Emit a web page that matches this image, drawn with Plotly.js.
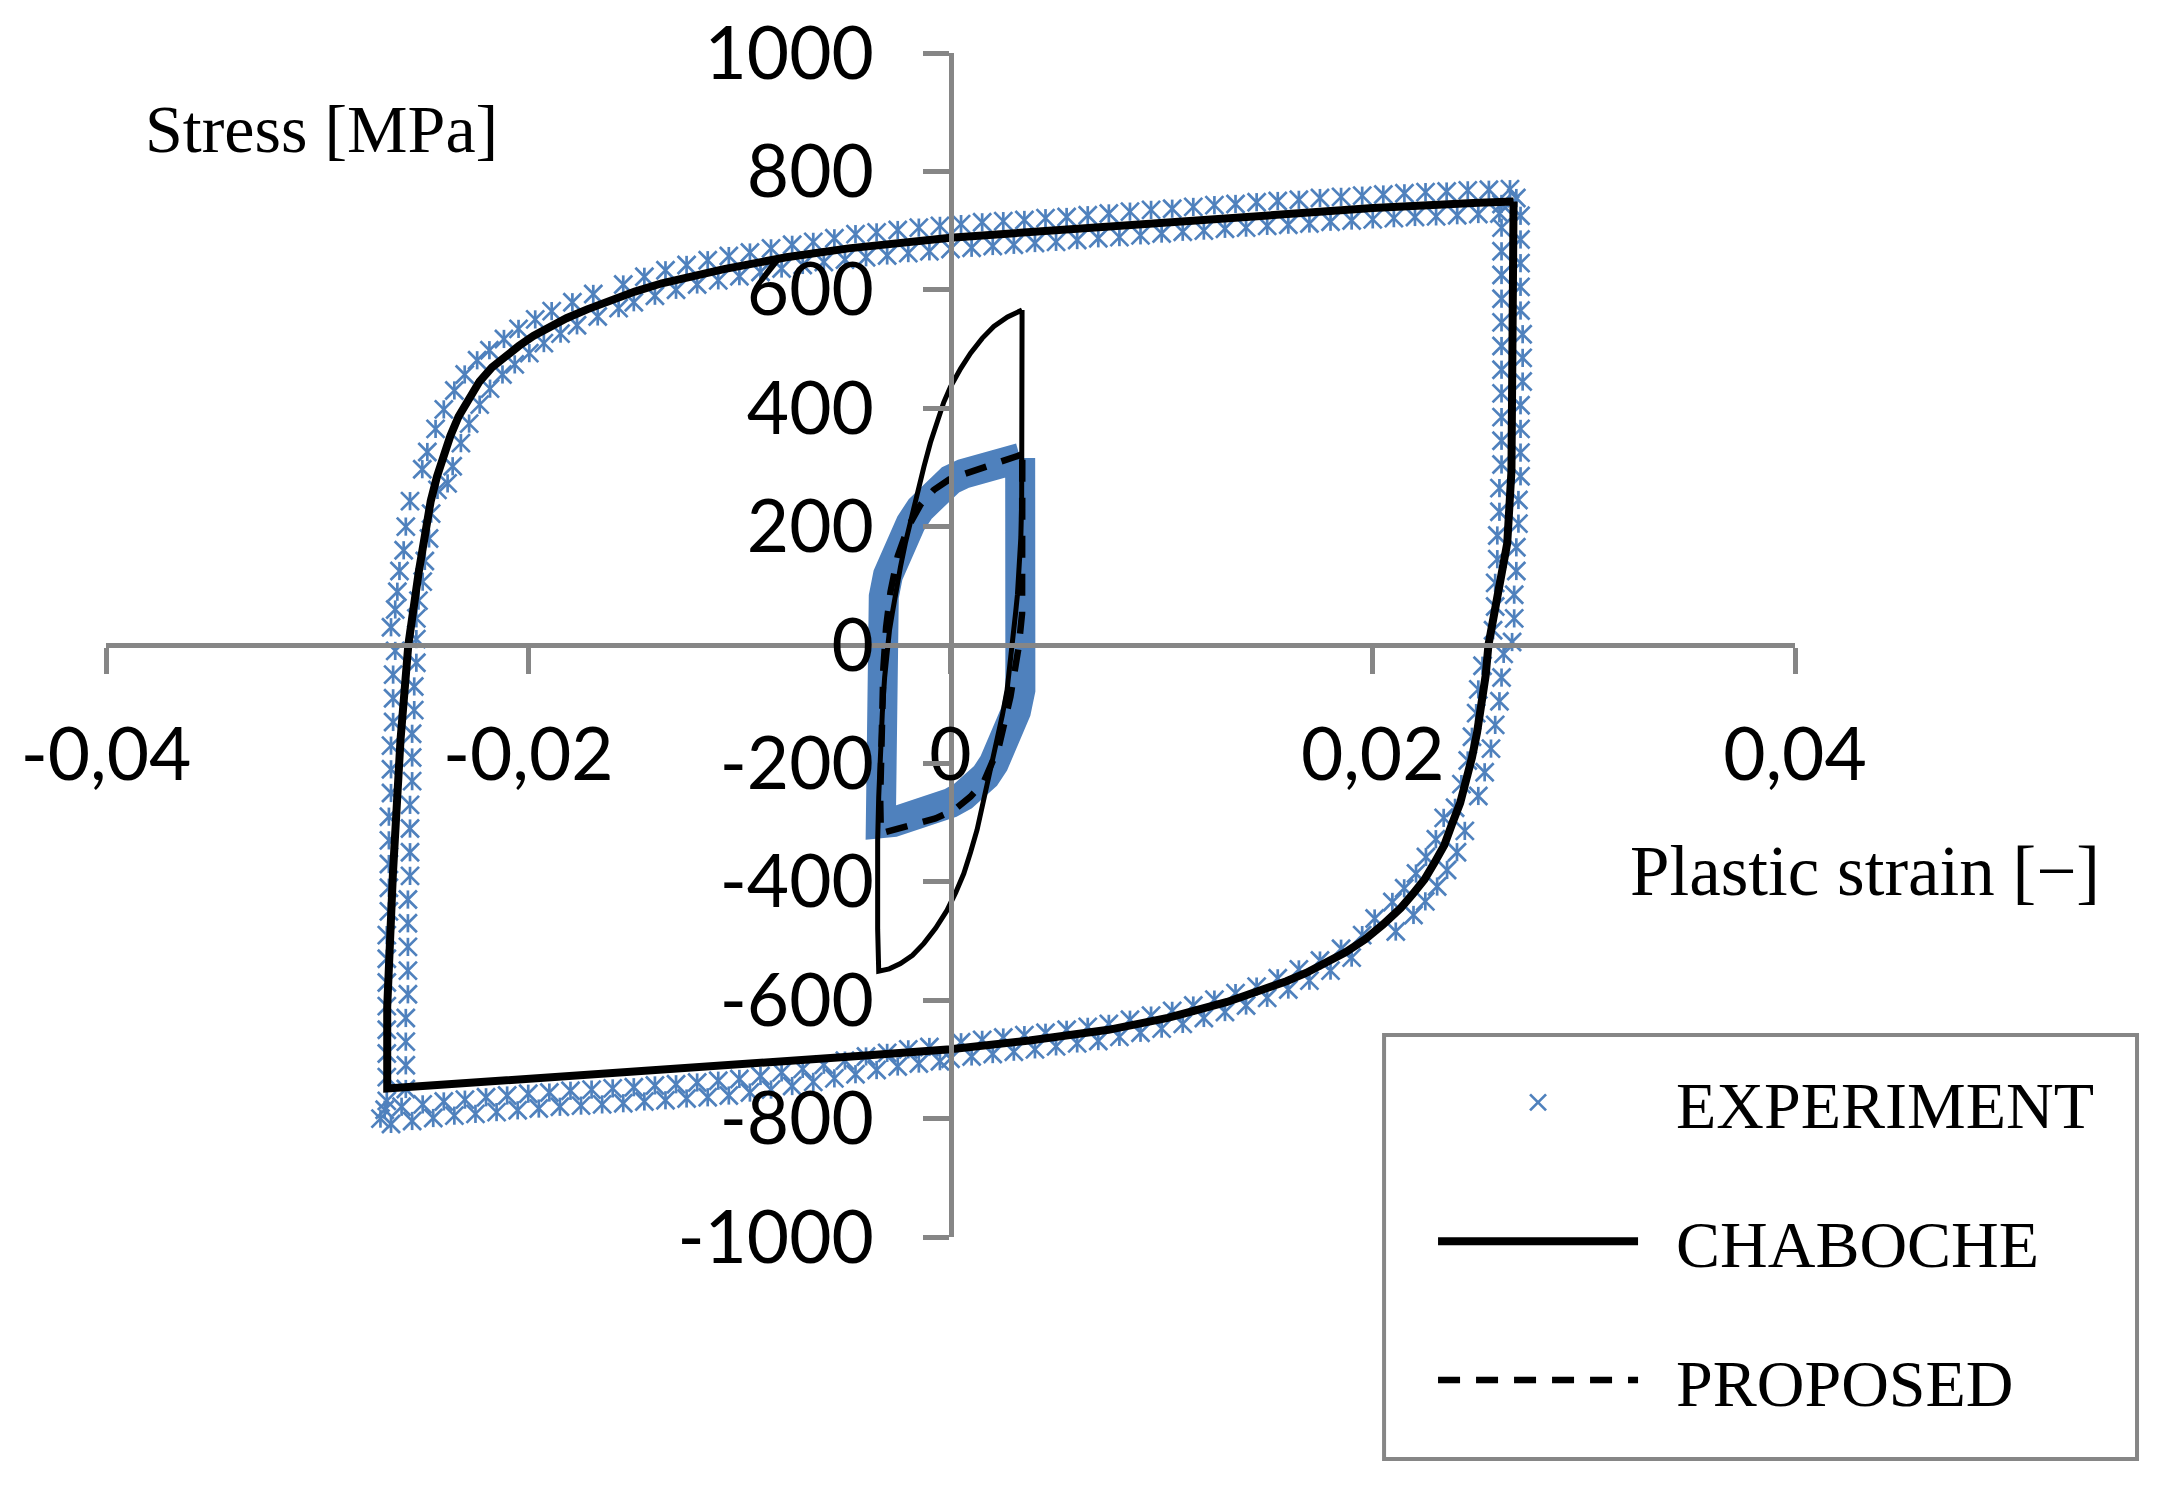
<!DOCTYPE html>
<html>
<head>
<meta charset="utf-8">
<script src="https://cdn.plot.ly/plotly-3.0.1.min.js"></script>
<style>html,body{margin:0;padding:0;background:#fff;}#chart{width:2179px;height:1498px;}</style>
</head>
<body>
<div id="chart"></div>
<script>
// ---- tick labels ----
const xTickVals = [-0.04, -0.02, 0, 0.02, 0.04];
const xTickText = ["-0,04", "-0,02", "0", "0,02", "0,04"];
const yTickVals = [-1000, -800, -600, -400, -200, 0, 200, 400, 600, 800, 1000];
const yTickText = ["-1000", "-800", "-600", "-400", "-200", "0", "200", "400", "600", "800", "1000"];

// ---- series names ----
const nameExp = 'EXPERIMENT';
const nameCha = 'CHABOCHE';
const namePro = 'PROPOSED';

// ---- EXPERIMENT, large loop (markers, read along the loop) ----
const expOuterX = [
 // right side, going down
 0.0268,0.0261,0.0270,0.0261,0.0270,0.0261,0.0270,0.0261,0.0270,0.0261,0.0270,0.0261,0.0271,0.0261,0.0271,0.0261,0.0271,0.0261,0.0270,0.0261,
 0.0270,0.0261,0.0270,0.0261,0.0270,0.0260,0.0269,0.0260,0.0269,0.0259,0.0268,0.0259,0.0268,0.0258,0.0267,0.0258,0.0267,0.0257,0.0266,
 0.0262,0.0252,0.0261,0.0250,0.0260,0.0249,0.0258,0.0247,0.0256,0.0245,0.0253,0.0242,0.0250,0.0239,
 // lower right bend
 0.02436,0.02336,0.02399,0.02299,0.02352,0.02252,0.02305,0.02205,0.02249,0.02149,0.02193,0.02093,0.02109,0.02009,
 // lower branch
 0.0195,0.0190,0.0185,0.0180,0.0175,0.0170,0.0165,0.0160,0.0155,0.0150,0.0145,0.0140,0.0135,0.0130,0.0125,0.0120,0.0115,0.0110,0.0105,0.0100,
 0.0095,0.0090,0.0085,0.0080,0.0075,0.0070,0.0065,0.0060,0.0055,0.0050,0.0045,0.0040,0.0035,0.0030,0.0025,0.0020,0.0015,0.0010,0.0005,0.0000,
 -0.0005,-0.0010,-0.0015,-0.0020,-0.0025,-0.0030,-0.0035,-0.0040,-0.0045,-0.0050,-0.0055,-0.0060,-0.0065,-0.0070,-0.0075,-0.0080,-0.0085,-0.0090,-0.0095,-0.0100,
 -0.0105,-0.0110,-0.0115,-0.0120,-0.0125,-0.0130,-0.0135,-0.0140,-0.0145,-0.0150,-0.0155,-0.0160,-0.0165,-0.0170,-0.0175,-0.0180,-0.0185,-0.0190,-0.0195,-0.0200,
 -0.0205,-0.0210,-0.0215,-0.0220,-0.0225,-0.0230,-0.0235,-0.0240,-0.0245,-0.0250,-0.0255,-0.0260,-0.0265,-0.0270,-0.0268,
 // left side, going up
 -0.0267,-0.0258,-0.0267,-0.0258,-0.0267,-0.0258,-0.0267,-0.0258,-0.0267,-0.0257,-0.0267,-0.0257,-0.0267,-0.0257,-0.0267,-0.0257,-0.0266,-0.0257,-0.0266,-0.0256,
 -0.0266,-0.0256,-0.0266,-0.0256,-0.0266,-0.0256,-0.0265,-0.0255,-0.0265,-0.0255,-0.0265,-0.0255,-0.0264,-0.0254,-0.0264,-0.0254,-0.0264,-0.0253,-0.0263,-0.0253,
 -0.0265,-0.0253,-0.0263,-0.0252,-0.0262,-0.0250,-0.0261,-0.0249,-0.0259,-0.0247,-0.0258,-0.0246,-0.0256,-0.0243,
 // upper left bend
 -0.02502,-0.02382,-0.02478,-0.02358,-0.02439,-0.02319,-0.02400,-0.02280,-0.02350,-0.02230,-0.02301,-0.02181,-0.02242,-0.02122,
 -0.02184,-0.02064,-0.02115,-0.01995,-0.02046,-0.01926,-0.01967,-0.01847,-0.01889,-0.01769,-0.01791,-0.01671,-0.01692,-0.01572,
 // upper branch
 -0.0155,-0.0150,-0.0145,-0.0140,-0.0135,-0.0130,-0.0125,-0.0120,-0.0115,-0.0110,-0.0105,-0.0100,-0.0095,-0.0090,-0.0085,-0.0080,-0.0075,-0.0070,-0.0065,-0.0060,-0.0055,
 -0.0050,-0.0045,-0.0040,-0.0035,-0.0030,-0.0025,-0.0020,-0.0015,-0.0010,-0.0005,0.0000,0.0005,0.0010,0.0015,0.0020,0.0025,0.0030,0.0035,0.0040,0.0045,
 0.0050,0.0055,0.0060,0.0065,0.0070,0.0075,0.0080,0.0085,0.0090,0.0095,0.0100,0.0105,0.0110,0.0115,0.0120,0.0125,0.0130,0.0135,0.0140,0.0145,
 0.0150,0.0155,0.0160,0.0165,0.0170,0.0175,0.0180,0.0185,0.0190,0.0195,0.0200,0.0205,0.0210,0.0215,0.0220,0.0225,0.0230,0.0235,0.0240,0.0245,
 0.0250,0.0255,0.0260,0.0265
];
const expOuterY = [
 755,745,725,705,685,665,645,625,605,585,565,545,525,505,485,465,445,425,405,385,
 365,345,325,305,285,265,245,225,205,185,165,145,125,105,85,65,45,25,5,
 -15,-35,-55,-75,-95,-115,-135,-155,-175,-195,-215,-235,-255,-275,
 -314,-292,-350,-328,-380,-358,-408,-386,-433,-411,-456,-434,-484,-462,
 -490,-528,-513,-550,-533,-567,-548,-582,-563,-596,-577,-609,-588,-620,-599,-630,-609,-640,-618,-648,
 -626,-655,-633,-662,-640,-669,-645,-673,-650,-678,-655,-683,-659,-687,-663,-691,-667,-695,-671,-699,
 -703,-679,-707,-683,-712,-689,-718,-695,-725,-702,-732,-709,-738,-716,-745,-722,-751,-728,-756,-733,
 -761,-736,-764,-739,-766,-742,-769,-744,-771,-747,-774,-749,-776,-751,-778,-753,-780,-756,-783,-758,
 -786,-761,-789,-764,-792,-768,-795,-771,-799,-776,-804,-780,-809,-800,-785,
 -770,-750,-730,-710,-690,-670,-650,-630,-610,-590,-570,-550,-530,-510,-490,-470,-450,-430,-410,-390,
 -370,-350,-330,-310,-290,-270,-250,-230,-210,-190,-170,-150,-130,-110,-90,-70,-50,-30,-10,10,
 30,45,60,75,90,107,125,142,160,180,200,222,243,262,
 297,273,326,302,365,341,398,374,430,406,457,433,481,457,
 498,474,517,493,534,510,550,526,564,540,579,555,593,569,
 609,579,622,590,633,600,642,609,650,616,657,623,663,630,670,636,676,642,681,647,687,
 651,694,655,697,658,701,662,705,665,708,669,711,671,714,674,716,676,718,679,721,
 681,723,684,726,687,729,689,732,692,735,695,737,698,740,700,743,703,745,705,748,
 708,750,710,752,712,755,715,757,717,759,719,761,721,763,723,765,724,766,726,768,
 728,769,729,770
];

// ---- EXPERIMENT, small loop (very dense points, drawn as a band) ----
const expInnerX = [0.0033,0.00336,0.00338,0.0034,0.00344,0.00345,0.0034,0.00331,0.0031,0.00284,0.00247,0.00205,0.00166,0.00126,0.0006,0,-0.001,-0.00189,-0.0027,-0.0033,
 -0.00331,-0.00331,-0.00331,-0.00326,-0.00316,-0.00296,-0.00268,-0.00232,-0.00189,-0.00143,-0.00095,-0.0005,0,0.0006,0.00126,0.0025,0.0033];
const expInnerY = [316,250,180,110,50,0,-40,-76,-112,-144,-174,-200,-221,-239,-255,-267,-284,-294,-299,-301,
 -200,-100,-3,42,82,118,149,178,205,230,250,265,279,289,298,310,316];

// ---- CHABOCHE ----
const chabOuterX = [0.02667,0.02662,0.02659,0.02657,0.02637,0.02548,0.02535,0.02516,0.02494,0.0247,0.02442,0.02414,0.02376,0.02339,0.02292,0.02245,
 0.02189,0.02133,0.02049,0.01964,0.01871,0.01778,0.01684,0.01591,0.0145,0.0131,0.01029,0.00748,0.00374,0,
 -0.005,-0.01,-0.015,-0.02,-0.025,-0.02668,-0.02668,-0.02641,-0.02605,-0.02568,-0.02546,-0.02518,-0.0249,-0.02462,-0.02432,-0.02408,
 -0.02369,-0.0233,-0.0228,-0.02231,-0.02172,-0.02114,-0.02045,-0.01976,-0.01897,-0.01819,-0.01721,-0.01622,-0.01495,-0.01367,-0.0122,-0.01073,-0.00778,-0.00483,
 0,0.005,0.01,0.015,0.02,0.025,0.02667];
const chabOuterY = [749,600,450,294,172,0,-51,-101,-148,-190,-231,-267,-302,-338,-368,-396,
 -421,-444,-472,-497,-519,-538,-554,-568,-587,-603,-630,-650,-668,-683,
 -696,-709,-721,-733,-745,-749,-611,-386,-160,0,66,125,184,243,285,314,
 353,386,418,445,469,486,505,522,538,552,567,581,597,611,624,635,655,670,
 688,700,714,727,738,747,749];
const chabInnerX = [0.00339,0.00339,0.00337,0.00333,0.00325,0.00317,0.00308,0.00294,0.00283,0.00268,0.00246,0.00221,0.00198,0.00174,0.0015,0.00126,0.00095,0.00063,0.00025,-0.00016,-0.0007,-0.00126,-0.0018,-0.00237,-0.0029,-0.0034,
 -0.00345,-0.00347,-0.00345,-0.0034,-0.00333,-0.00323,-0.00312,-0.003,-0.00289,-0.00276,-0.00258,-0.00237,-0.00214,-0.00189,-0.00158,-0.00126,-0.00095,-0.00063,-0.00032,0,0.00048,0.00095,0.0015,0.00205,0.0027,0.00339];
const chabInnerY = [566,300,240,180,120,85,53,0,-38,-76,-118,-160,-200,-239,-276,-312,-350,-386,-418,-448,-478,-504,-524,-538,-547,-551,
 -480,-397,-330,-256,-185,-115,-55,0,25,53,92,132,172,211,256,301,342,380,410,436,467,493,518,538,554,566];

// ---- PROPOSED ----
const propX = [0.0034,0.00237,0.00126,0,-0.00079,-0.00142,-0.002,-0.0025,-0.00284,-0.00305,-0.00318,-0.00325,-0.0033,-0.00333,-0.0033,-0.00268,-0.00181,-0.00071,0.00016,0.00095,0.00158,0.00229,0.00284,0.00323,0.00339,0.0034,0.0034];
const propY = [322,310,298,281,262,237,200,150,90,30,-40,-120,-200,-260,-318,-312,-304,-293,-279,-256,-231,-172,-87,-3,53,166,322];

const blue = '#4F81BD';
const gray = '#868686';
const pad = '\u00a0\u00a0';

const traces = [
  {x: expOuterX, y: expOuterY, type: 'scatter', mode: 'markers', name: pad + nameExp, legendgroup: 'exp',
   marker: {symbol: 'x-thin-open', size: 18, color: blue, line: {color: blue, width: 2.7}}},
  {x: expOuterX, y: expOuterY, type: 'scatter', mode: 'markers', name: nameExp, legendgroup: 'exp', showlegend: false,
   marker: {symbol: 'line-ns-open', size: 13, color: blue, line: {color: blue, width: 2.7}}},
  {x: expInnerX, y: expInnerY, type: 'scatter', mode: 'lines', name: nameExp, legendgroup: 'exp', showlegend: false,
   line: {color: blue, width: 30}},
  {x: chabOuterX, y: chabOuterY, type: 'scatter', mode: 'lines', name: pad + nameCha, legendgroup: 'cha',
   line: {color: '#000000', width: 8}},
  {x: chabInnerX, y: chabInnerY, type: 'scatter', mode: 'lines', name: nameCha, legendgroup: 'cha', showlegend: false,
   line: {color: '#000000', width: 5}},
  {x: propX, y: propY, type: 'scatter', mode: 'lines', name: pad + namePro, legendgroup: 'pro',
   line: {color: '#000000', width: 6.5, dash: '22px,16px'}}
];

const tickFont = {family: 'Lato, "Open Sans", sans-serif', size: 73, color: '#000000'};
const layout = {
  width: 2179, height: 1498,
  paper_bgcolor: '#ffffff', plot_bgcolor: '#ffffff',
  margin: {l: 106, r: 384, t: 53, b: 261, pad: 0},
  showlegend: true,
  xaxis: {
    range: [-0.04, 0.04], anchor: 'free', position: 0.5,
    tickvals: xTickVals, ticktext: xTickText,
    showgrid: false, zeroline: false, showline: true, linecolor: gray, linewidth: 5,
    ticks: 'outside', ticklen: 26, tickwidth: 5, tickcolor: gray,
    tickfont: tickFont, ticklabelstandoff: 18
  },
  yaxis: {
    range: [-1000, 1000], anchor: 'free', position: 0.5,
    tickvals: yTickVals, ticktext: yTickText,
    showgrid: false, zeroline: false, showline: true, linecolor: gray, linewidth: 5,
    ticks: 'outside', ticklen: 26, tickwidth: 5, tickcolor: gray,
    tickfont: tickFont, ticklabelstandoff: 34
  },
  legend: {
    x: 0.7857, y: 0.1554, xanchor: 'left', yanchor: 'top',
    bgcolor: 'rgba(0,0,0,0)', borderwidth: 0,
    font: {family: '"Liberation Serif", serif', size: 66, color: '#000000'},
    itemwidth: 200, traceorder: 'grouped', tracegroupgap: 50
  },
  shapes: [
    {type: 'rect', xref: 'paper', yref: 'paper', x0: 0.7567, x1: 1.2025, y0: -0.1875, y1: 0.1706,
     line: {color: gray, width: 4}, fillcolor: 'rgba(0,0,0,0)', layer: 'above'}
  ],
  annotations: [
    {text: 'Stress [MPa]', xref: 'paper', yref: 'paper', x: 0.022, y: 0.936, xanchor: 'left', yanchor: 'middle',
     showarrow: false, font: {family: '"Liberation Serif", serif', size: 68, color: '#000000'}},
    {text: 'Plastic strain [\u2212]', xref: 'paper', yref: 'paper', x: 0.901, y: 0.309, xanchor: 'left', yanchor: 'middle',
     showarrow: false, font: {family: '"Liberation Serif", serif', size: 71, color: '#000000'}}
  ]
};

Plotly.newPlot('chart', traces, layout, {displayModeBar: false, staticPlot: true});
</script>
</body>
</html>
